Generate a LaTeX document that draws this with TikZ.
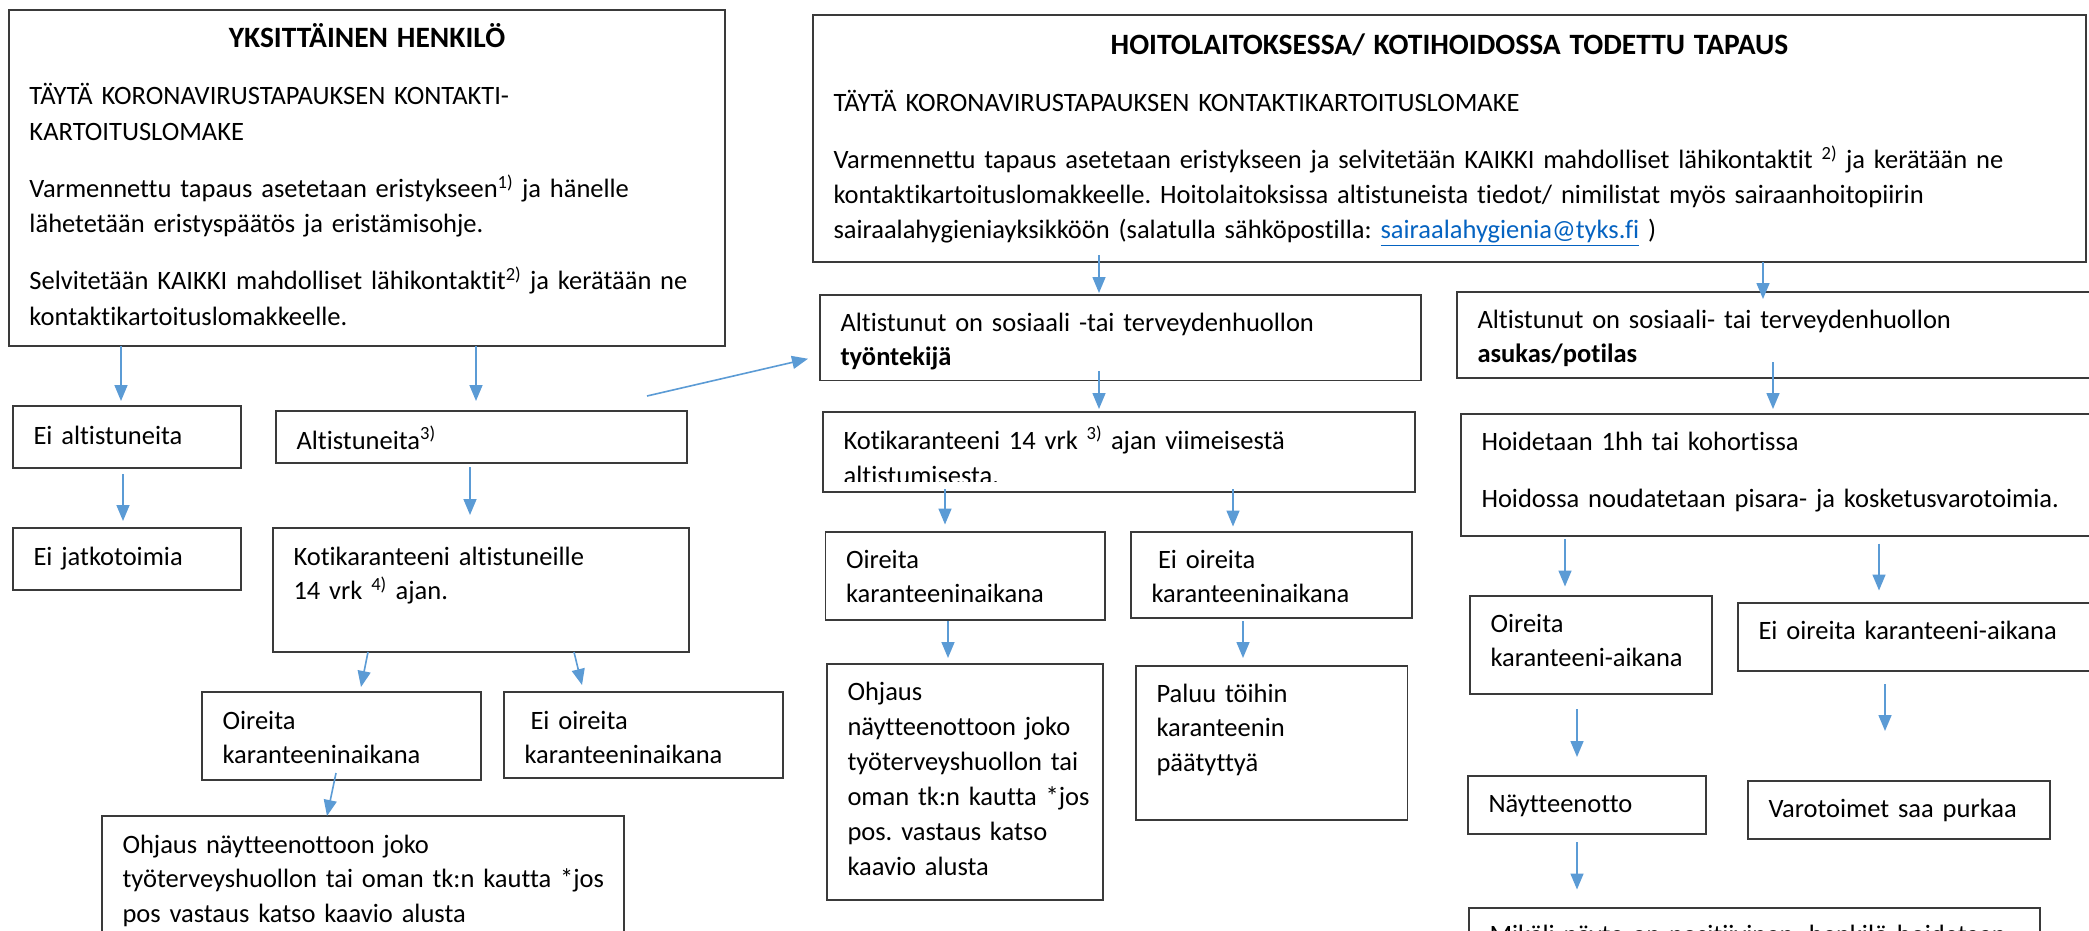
\documentclass[tikz,border=0pt]{standalone}
\usepackage{fontspec}
\setmainfont{Carlito}[Ligatures=NoCommon]
\usepackage{xcolor}
\usetikzlibrary{arrows.meta}
\definecolor{arrowblue}{HTML}{5B9BD5}
\definecolor{boxgray}{HTML}{3A3A3A}
\definecolor{linkblue}{HTML}{0563C1}
\newcommand{\bodyfont}{\fontsize{26.5}{34.5}\selectfont}
\newcommand{\headfont}{\fontsize{29.5}{34.5}\selectfont\bfseries}
\frenchspacing

\begin{document}
\begin{tikzpicture}[
    x=1pt, y=-1pt,
    box/.style={draw=boxgray, line width=1.6pt, anchor=north west, inner sep=0pt, outer sep=0pt,
      font=\bodyfont, execute at begin node={\leftskip=20.5pt\relax}},
    cell/.style n args={3}{text width=#1, text height=#2, text depth=#3},
    arrow/.style={draw=arrowblue, line width=1.6pt, -{Triangle[width=13pt,length=16pt]}},
  ]
  \path[use as bounding box, fill=white] (0,0) rectangle (2089,931);

  \node (ind) [box, cell={716pt}{38pt}{298pt}, font=\fontsize{26.5}{35.5}\selectfont] at (9,10) {%
    {\headfont\centering YKSITTÄINEN HENKILÖ\par}\vspace{21.5pt}
    TÄYTÄ KORONAVIRUSTAPAUKSEN KONTAKTI-\\
    KARTOITUSLOMAKE\par\vspace{21.5pt}
    Varmennettu tapaus asetetaan eristykseen\textsuperscript{1)} ja hänelle\\
    lähetetään eristyspäätös ja eristämisohje.\par\vspace{21.5pt}
    Selvitetään KAIKKI mahdolliset lähikontaktit\textsuperscript{2)} ja kerätään ne\\
    kontaktikartoituslomakkeelle.};
  \node (hoito) [box, cell={1273pt}{40pt}{207pt}, font=\fontsize{26.5}{35}\selectfont] at (813,15) {%
    {\headfont\centering HOITOLAITOKSESSA/ KOTIHOIDOSSA TODETTU TAPAUS\par}\vspace{22pt}
    TÄYTÄ KORONAVIRUSTAPAUKSEN KONTAKTIKARTOITUSLOMAKE\par\vspace{22pt}
    Varmennettu tapaus asetetaan eristykseen ja selvitetään KAIKKI mahdolliset lähikontaktit \textsuperscript{2)} ja kerätään ne\\
    kontaktikartoituslomakkeelle. Hoitolaitoksissa altistuneista tiedot/ nimilistat myös sairaanhoitopiirin\\
    sairaalahygieniayksikköön (salatulla sähköpostilla: \textcolor{linkblue}{\underline{sairaalahygienia@tyks.fi}} )};

  \node (eialt) [box, cell={228pt}{38pt}{24pt}] at (13,406) {Ei altistuneita};
  \node (alt) [box, cell={411pt}{38pt}{14pt}] at (276,411) {Altistuneita\textsuperscript{3)}};
  \node (eijatko) [box, cell={228pt}{37pt}{25pt}] at (13,528) {Ei jatkotoimia};
  \node (koti) [box, cell={416pt}{37pt}{87pt}] at (273,528) {Kotikaranteeni altistuneille\\14 vrk \textsuperscript{4)} ajan.};
  \node (oir) [box, cell={279pt}{37pt}{51pt}] at (202,692) {Oireita\\karanteeninaikana};
  \node (eioir) [box, cell={279pt}{37pt}{49pt}] at (504,692) {\hspace*{6pt}Ei oireita\\karanteeninaikana};
  \node (ohj) [box, cell={522pt}{37pt}{163pt}] at (102,816) {Ohjaus näytteenottoon joko\\työterveyshuollon tai oman tk:n kautta *jos\\pos vastaus katso kaavio alusta};

  \node (tyon) [box, cell={601pt}{36pt}{49.5pt}] at (820,295) {Altistunut on sosiaali -tai terveydenhuollon\\\textbf{työntekijä}};
  \node (asukas) [box, cell={700pt}{36pt}{50pt}] at (1457,292) {Altistunut on sosiaali- tai terveydenhuollon\\\textbf{asukas/potilas}};
  \node (koti2) [box, cell={592pt}{37pt}{43pt}] at (823,412) {Kotikaranteeni 14 vrk \textsuperscript{3)} ajan viimeisestä};
  \begin{scope}
    \clip (koti2.north west) rectangle ([yshift=11pt]koti2.south east);
    \node (koti2b) [anchor=base west, font=\bodyfont, inner sep=0pt] at ([xshift=20.5pt,yshift=-72pt]koti2.north west) {altistumisesta.};
  \end{scope}
  \node (hoid) [box, cell={700pt}{36pt}{86pt}] at (1461,414) {Hoidetaan 1hh tai kohortissa\par\vspace{22.5pt}Hoidossa noudatetaan pisara- ja kosketusvarotoimia.};
  \node (oir2) [box, cell={279.5pt}{36pt}{52pt}] at (825.5,532) {Oireita\\karanteeninaikana};
  \node (eioir2) [box, cell={281pt}{36pt}{50pt}] at (1131,532) {\hspace*{6.5pt}Ei oireita\\karanteeninaikana};
  \node (ohj2) [box, cell={276pt}{36.5pt}{199.5pt}, font=\fontsize{26.5}{35}\selectfont] at (827,664) {Ohjaus\\näytteenottoon joko\\työterveyshuollon tai\\oman tk:n kautta *jos\\pos. vastaus katso\\kaavio alusta};
  \node (paluu) [box, cell={271.5pt}{36pt}{118pt}] at (1136,666) {Paluu töihin\\karanteenin\\päätyttyä};
  \node (oir3) [box, cell={242pt}{36pt}{62pt}] at (1470,596) {Oireita\\karanteeni-aikana};
  \node (eioir3) [box, cell={400pt}{36pt}{32pt}] at (1738,603) {Ei oireita karanteeni-aikana};
  \node (nayt) [box, cell={238pt}{36pt}{22pt}] at (1468,776) {Näytteenotto};
  \node (varo) [box, cell={302pt}{36pt}{22pt}] at (1748,781) {Varotoimet saa purkaa};
  \node (mikali) [box, cell={571pt}{35pt}{65pt}] at (1469,908) {Mikäli näyte on positiivinen, henkilö hoidetaan};

  \draw[arrow] ([xshift=112pt]ind.south west) -- ([xshift=108pt,yshift=5pt]eialt.north west);
  \draw[arrow] ([xshift=467pt]ind.south west) -- ([xshift=200pt,yshift=10pt]alt.north west);
  \draw[arrow] ([xshift=-40pt,yshift=15pt]alt.north east) -- ([xshift=-12pt,yshift=-21pt]tyon.west);
  \draw[arrow] ([xshift=110pt,yshift=-6pt]eialt.south west) -- ([xshift=110pt,yshift=7pt]eijatko.north west);
  \draw[arrow] ([xshift=194pt,yshift=-4pt]alt.south west) -- ([xshift=197pt,yshift=13pt]koti.north west);
  \draw[arrow] ([xshift=95pt]koti.south west) -- ([xshift=159pt,yshift=5pt]oir.north west);
  \draw[arrow] ([xshift=301pt]koti.south west) -- ([xshift=78pt,yshift=7pt]eioir.north west);
  \draw[arrow] ([xshift=134pt,yshift=7pt]oir.south west) -- ([xshift=225pt]ohj.north west);
  \draw[arrow] ([xshift=286pt,yshift=7pt]hoito.south west) -- ([xshift=279pt,yshift=2pt]tyon.north west);
  \draw[arrow] ([xshift=950pt]hoito.south west) -- ([xshift=306pt,yshift=-7pt]asukas.north west);
  \draw[arrow] ([xshift=279pt,yshift=9.5pt]tyon.south west) -- ([xshift=276pt,yshift=3pt]koti2.north west);
  \draw[arrow] ([xshift=316pt,yshift=16pt]asukas.south west) -- ([xshift=312pt,yshift=5pt]hoid.north west);
  \draw[arrow] ([xshift=122pt,yshift=3pt]koti2.south west) -- ([xshift=119.5pt,yshift=7.5pt]oir2.north west);
  \draw[arrow] ([xshift=410pt,yshift=3pt]koti2.south west) -- ([xshift=102pt,yshift=5.5pt]eioir2.north west);
  \draw[arrow] ([xshift=122.5pt,yshift=-1pt]oir2.south west) -- ([xshift=121pt,yshift=6pt]ohj2.north west);
  \draw[arrow] ([xshift=112pt,yshift=-3pt]eioir2.south west) -- ([xshift=107pt,yshift=8pt]paluu.north west);
  \draw[arrow] ([xshift=104pt,yshift=-3pt]hoid.south west) -- ([xshift=95pt,yshift=9.5pt]oir3.north west);
  \draw[arrow] ([xshift=418pt,yshift=-7.5pt]hoid.south west) -- ([xshift=141pt,yshift=12.5pt]eioir3.north west);
  \draw[arrow] ([xshift=107pt,yshift=-15pt]oir3.south west) -- ([xshift=109pt,yshift=19pt]nayt.north west);
  \draw[arrow] ([xshift=147pt,yshift=-13pt]eioir3.south west) -- ([xshift=137pt,yshift=50pt]varo.north west);
  \draw[arrow] ([xshift=109pt,yshift=-8pt]nayt.south west) -- ([xshift=108pt,yshift=18.5pt]mikali.north west);
\end{tikzpicture}
\end{document}
